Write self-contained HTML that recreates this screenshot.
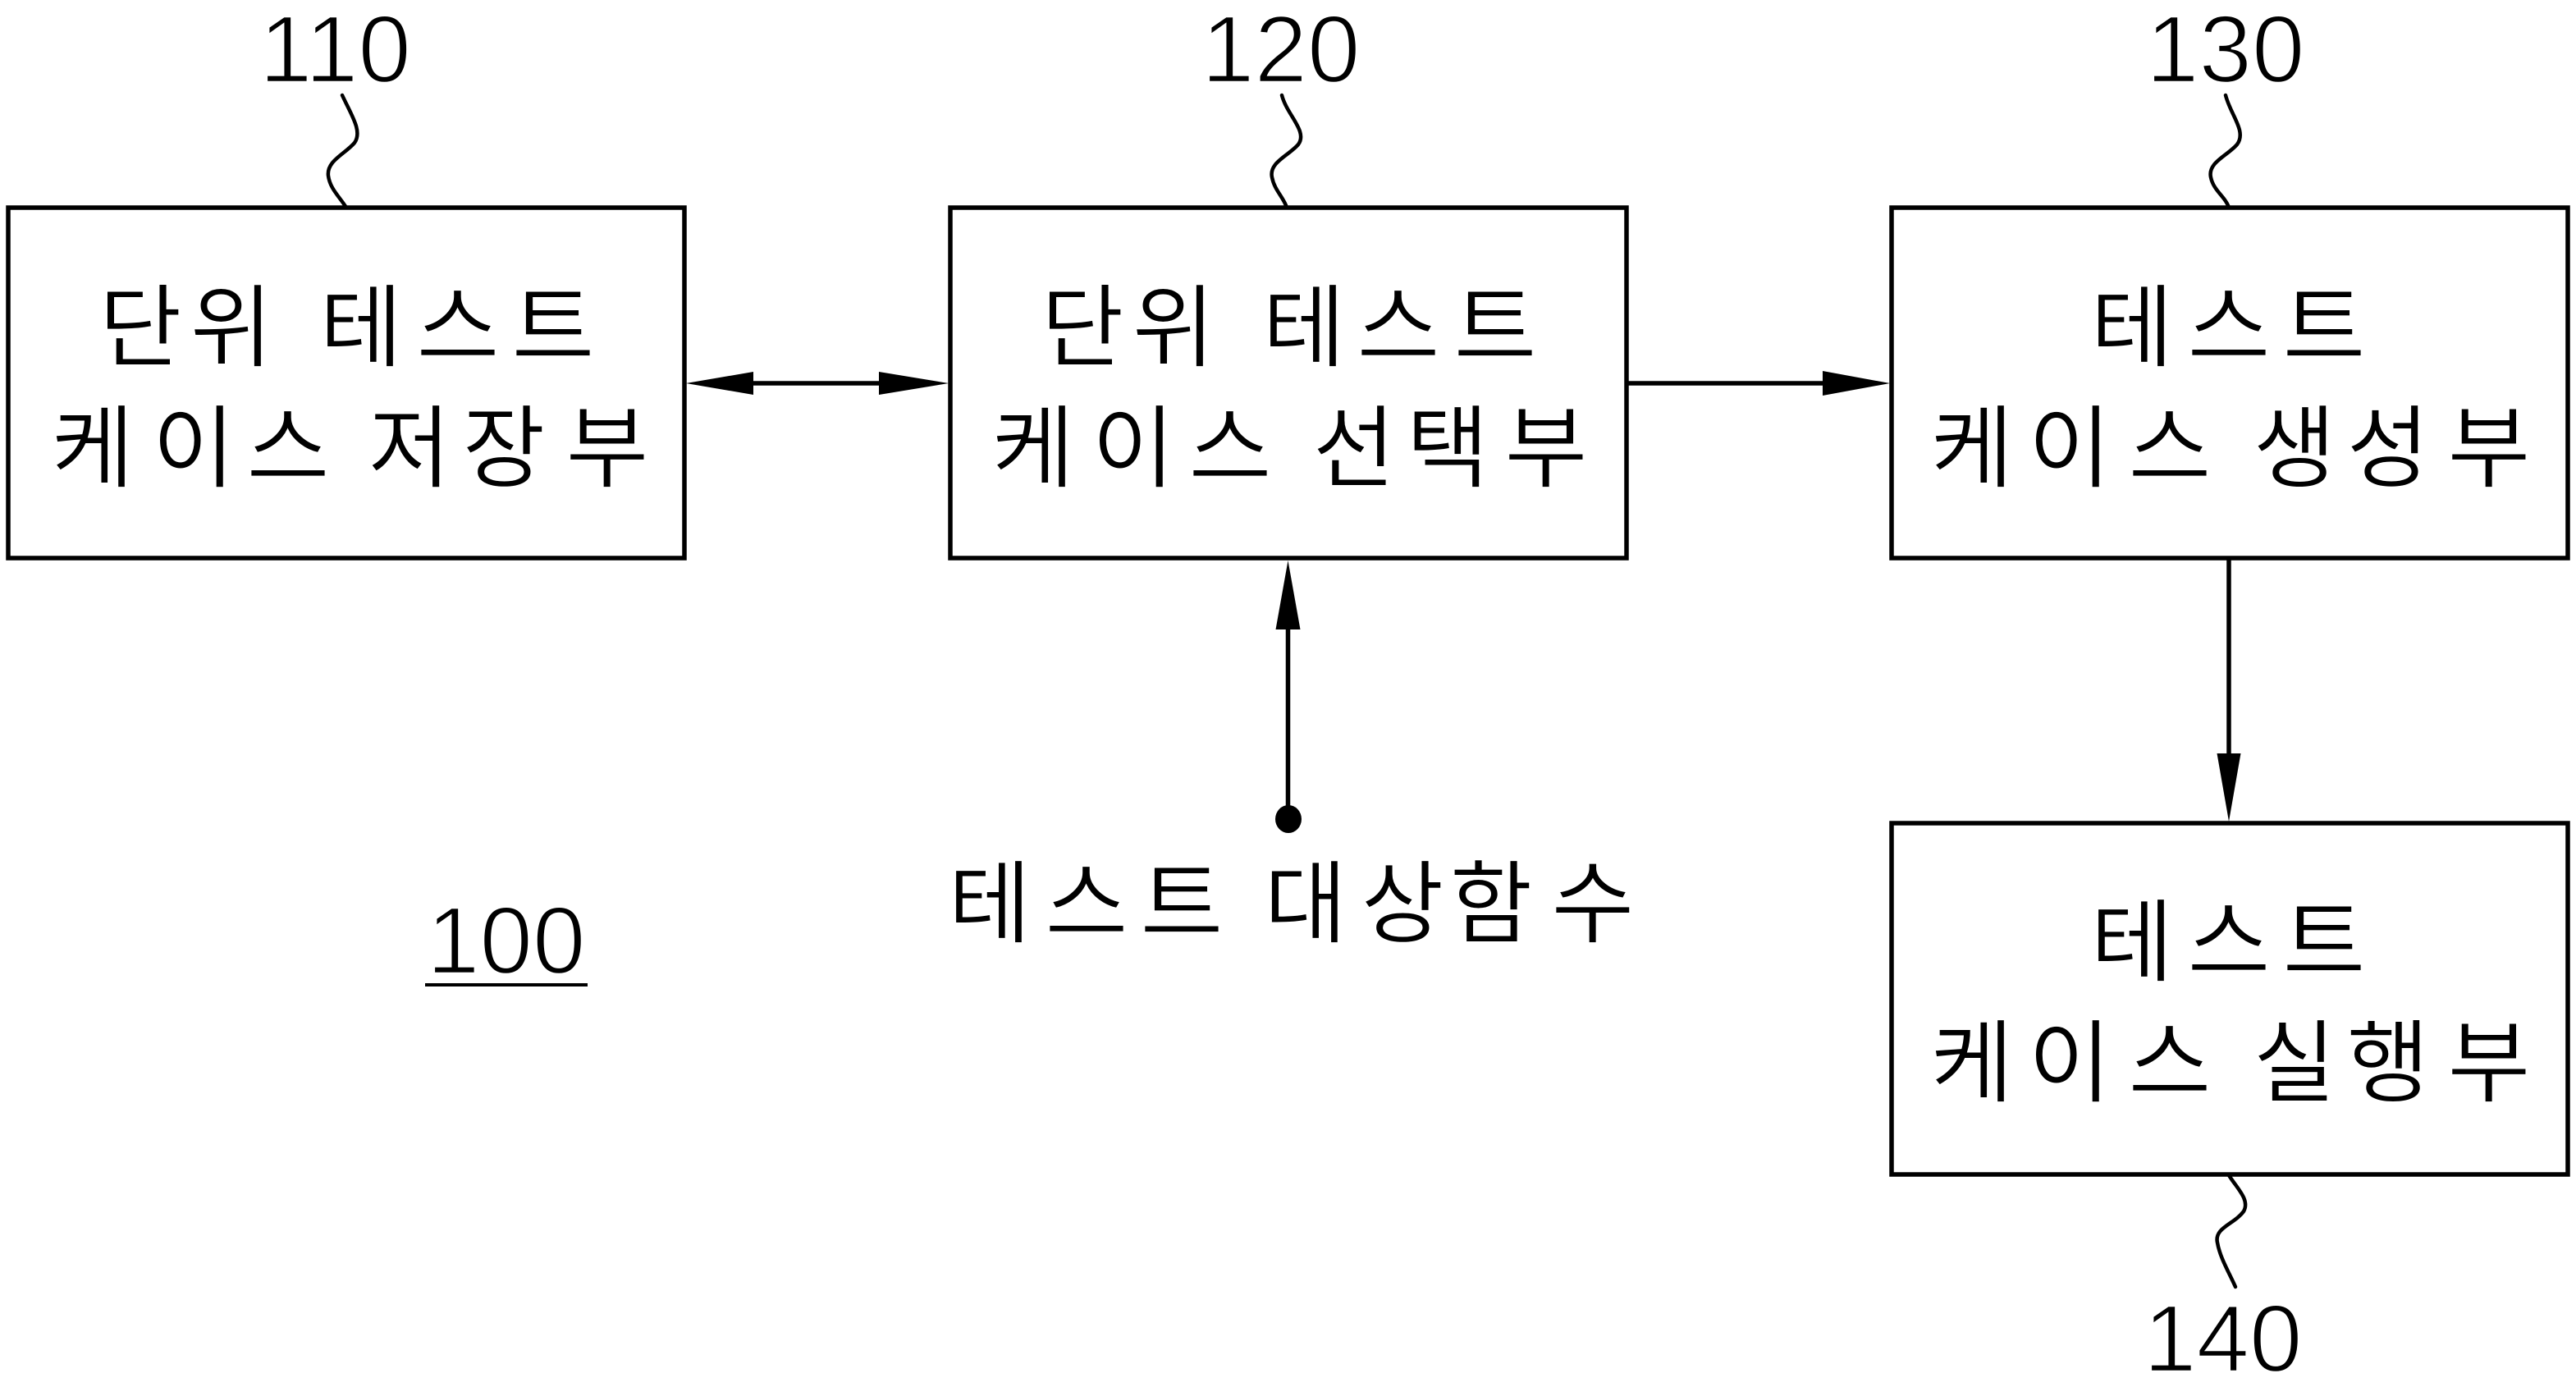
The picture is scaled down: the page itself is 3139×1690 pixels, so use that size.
<!DOCTYPE html>
<html><head><meta charset="utf-8">
<style>
html,body{margin:0;padding:0;background:#fff;}
svg{display:block;}
.k{font-family:"Liberation Sans","Noto Sans CJK KR","NanumGothic",sans-serif;font-size:110px;fill:#000;stroke:#fff;stroke-width:1;text-anchor:middle;}
.d{font-family:"Liberation Sans",Arial,sans-serif;font-size:116px;fill:#000;stroke:#fff;stroke-width:2.5;}
</style></head>
<body>
<svg width="3139" height="1690" viewBox="0 0 3139 1690" xmlns="http://www.w3.org/2000/svg">
<rect width="3139" height="1690" fill="#fff"/>
<g fill="none" stroke="#000" stroke-width="5.5">
<rect x="10" y="253" width="824" height="427"/>
<rect x="1158" y="253" width="824" height="427"/>
<rect x="2305" y="253" width="824" height="427"/>
<rect x="2305" y="1003" width="824" height="428"/>
<line x1="900" y1="467" x2="1090" y2="467"/>
<line x1="1982" y1="467" x2="2240" y2="467"/>
<line x1="1569.5" y1="750" x2="1569.5" y2="998"/>
<line x1="2716" y1="680" x2="2716" y2="930"/>
<line x1="518" y1="1200" x2="716" y2="1200" stroke-width="4"/>
</g>
<g fill="none" stroke="#000" stroke-width="4.5" stroke-linecap="round">
<path d="M417,116 C428,140 442,160 432,174 C420,188 398,196 400,214 C402,230 414,240 422,253"/>
<path d="M1562,116 C1568,140 1594,160 1582,176 C1570,190 1546,198 1550,216 C1553,232 1564,240 1568,253"/>
<path d="M2712,116 C2718,140 2738,160 2726,176 C2714,190 2690,198 2694,216 C2697,232 2712,240 2716,253"/>
<path d="M2716,1432 C2726,1448 2742,1462 2734,1476 C2722,1492 2698,1496 2702,1514 C2705,1532 2716,1550 2724,1568"/>
</g>
<g fill="#000">
<polygon points="836,467 918,453 918,481"/>
<polygon points="1156,467 1071,453 1071,481"/>
<polygon points="2303,467 2221,452 2221,482"/>
<polygon points="1569.5,683 1554.5,767 1584.5,767"/>
<polygon points="2716,1001 2701.5,918 2730.5,918"/>
<ellipse cx="1570" cy="998" rx="16" ry="17"/>
</g>
<!-- reference numerals -->
<text class="d" x="316" y="100">110</text>
<text class="d" x="1464" y="100">120</text>
<text class="d" x="2615" y="100">130</text>
<text class="d" x="2612" y="1671">140</text>
<text class="d" x="520" y="1186">100</text>
<!-- box 110 -->
<text class="k" x="171 282 440 558 674" y="438">단위테스트</text>
<text class="k" x="113 236 351 499 614 740" y="585">케이스저장부</text>
<!-- box 120 -->
<text class="k" x="1319 1430 1589 1704 1822" y="438">단위테스트</text>
<text class="k" x="1259 1381 1499 1650 1764 1884" y="585">케이스선택부</text>
<!-- box 130 -->
<text class="k" x="2598 2716 2832" y="438">테스트</text>
<text class="k" x="2403 2522 2644 2796 2910 3033" y="585">케이스생성부</text>
<!-- box 140 -->
<text class="k" x="2598 2716 2832" y="1187">테스트</text>
<text class="k" x="2403 2522 2644 2796 2910 3033" y="1334">케이스실행부</text>
<!-- input label -->
<text class="k" x="1206 1324 1440 1591 1709 1817 1941" y="1140">테스트대상함수</text>
</svg>
</body></html>
